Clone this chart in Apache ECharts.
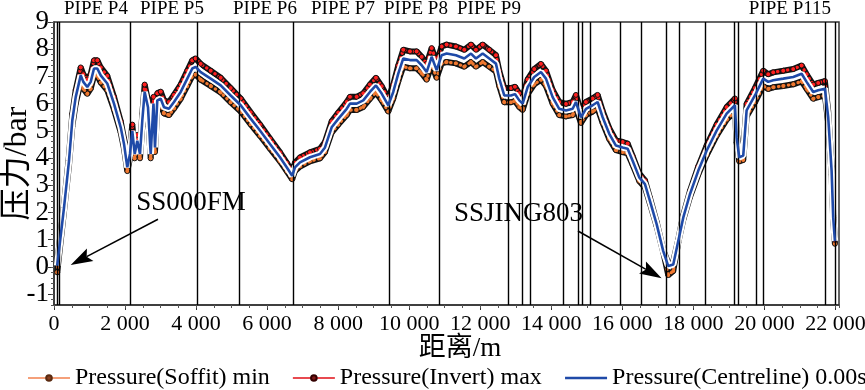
<!DOCTYPE html>
<html><head><meta charset="utf-8">
<script src="https://cdn.jsdelivr.net/npm/echarts@6/dist/echarts.min.js"></script>
<style>html,body{margin:0;padding:0;background:#fff}#c{width:865px;height:390px}</style>
</head><body><div id="c"></div>
<script>
// distance along the pipeline (m)
const distance = [
  90,282,422,515,611,752,825,937,1033,1126,
  1219,1315,1500,1689,1878,1971,2063,2139,2204,2272,
  2345,2421,2486,2553,2646,2722,2801,2843,2908,3004,
  3097,3237,3378,3567,3752,3893,3989,4130,4411,4693,
  4974,5256,5537,5799,6080,6362,6551,6705,6784,6925,
  7206,7488,7629,7817,8003,8240,8333,8521,8707,8895,
  9064,9225,9411,9551,9692,9833,10021,10210,10351,10491,
  10632,10773,10914,11054,11316,11550,11739,11879,12068,12254,
  12442,12535,12676,12865,12977,13098,13194,13335,13520,13709,
  13850,14038,14224,14413,14602,14694,14835,14976,15164,15305,
  15446,15632,15820,16009,16150,16290,16476,16637,16777,16966,
  17152,17293,17434,17575,17715,17903,18137,18373,18655,18937,
  19170,19218,19291,19404,19499,19733,19967,20107,20248,20530,
  20811,21048,21188,21374,21515,21703,21796,21892,21937,21985
];
// Pressure(Centreline) 0.00s (bar)
const centreline = [
  0.05,2.18,3.9,5.38,6.24,7.04,6.8,6.61,6.8,7.29,
  7.29,7.04,6.74,6.0,5.13,4.52,3.66,4.15,5.0,4.15,
  4.64,4.15,5.38,6.43,5.87,4.15,6.0,4.39,6.12,6.18,
  5.87,5.81,6.06,6.43,6.92,7.29,7.35,7.16,6.92,6.67,
  6.3,5.94,5.45,5.01,4.52,4.03,3.66,3.35,3.66,3.84,
  4.03,4.15,4.39,5.13,5.44,5.81,6.0,6.0,6.12,6.43,
  6.67,6.37,5.94,6.43,7.1,7.66,7.6,7.6,7.41,7.16,
  7.72,7.23,7.78,7.84,7.78,7.66,7.84,7.66,7.84,7.66,
  7.47,6.92,6.3,6.3,6.35,6.12,6.0,6.61,6.98,7.16,
  6.92,6.24,5.81,5.75,5.81,6.06,5.5,5.81,5.94,6.06,
  5.5,4.89,4.46,4.39,4.34,3.9,3.29,3.04,2.43,1.57,
  0.58,0.03,0.09,0.95,1.81,2.67,3.53,4.27,5.01,5.63,
  5.94,4.76,4.03,4.09,5.75,6.3,6.92,6.8,6.86,6.92,
  6.98,7.1,6.8,6.43,6.49,6.55,5.5,3.53,1.81,0.95
];
// Pressure(Invert) max (bar)
const invertMax = [
  0.15,2.3,4.08,5.62,6.5,7.33,7.08,6.89,7.08,7.59,
  7.59,7.33,7.02,6.25,5.35,4.72,3.83,4.34,5.23,4.34,
  4.85,4.34,5.62,6.7,6.12,4.34,6.25,4.59,6.38,6.44,
  6.12,6.06,6.32,6.7,7.21,7.59,7.66,7.46,7.21,6.95,
  6.57,6.19,5.68,5.23,4.72,4.21,3.83,3.51,3.83,4.02,
  4.21,4.34,4.59,5.35,5.67,6.06,6.25,6.25,6.38,6.7,
  6.95,6.64,6.19,6.7,7.4,7.98,7.92,7.92,7.72,7.46,
  8.04,7.53,8.1,8.17,8.1,7.98,8.17,7.98,8.17,7.98,
  7.78,7.21,6.57,6.57,6.62,6.38,6.25,6.89,7.27,7.46,
  7.21,6.5,6.06,5.99,6.06,6.32,5.73,6.06,6.19,6.32,
  5.73,5.1,4.65,4.59,4.53,4.07,3.44,3.18,2.54,1.65,
  0.62,0.15,0.2,1.0,1.9,2.79,3.69,4.46,5.23,5.87,
  6.19,4.97,4.21,4.27,5.99,6.57,7.21,7.08,7.15,7.21,
  7.27,7.4,7.08,6.7,6.76,6.83,5.73,3.69,1.9,1.0
];
// Pressure(Soffit) min (bar)
const soffitMin = [
  -0.2,2.05,3.74,5.17,6.0,6.78,6.55,6.36,6.55,7.02,
  7.02,6.78,6.49,5.78,4.94,4.35,3.52,3.99,4.81,3.99,
  4.46,3.99,5.17,6.18,5.64,3.99,5.77,4.22,5.88,5.94,
  5.64,5.58,5.82,6.18,6.65,7.01,7.07,6.88,6.65,6.41,
  6.05,5.71,5.24,4.82,4.35,3.88,3.52,3.22,3.52,3.69,
  3.88,3.99,4.22,4.94,5.23,5.58,5.77,5.77,5.88,6.18,
  6.41,6.12,5.71,6.18,6.82,7.36,7.3,7.3,7.12,6.88,
  7.42,6.95,7.48,7.53,7.48,7.36,7.53,7.36,7.53,7.36,
  7.18,6.65,6.05,6.05,6.1,5.88,5.77,6.35,6.71,6.88,
  6.65,6.0,5.58,5.53,5.58,5.82,5.29,5.58,5.71,5.82,
  5.29,4.7,4.29,4.22,4.17,3.75,3.16,2.92,2.33,1.5,
  0.54,-0.3,-0.15,0.9,1.73,2.56,3.39,4.1,4.82,5.41,
  5.71,4.57,3.88,3.93,5.53,6.05,6.65,6.54,6.6,6.65,
  6.71,6.82,6.54,6.18,6.24,6.3,5.29,3.39,1.73,0.85
];
// pipe boundary positions (m)
const pipeLines = [85,160,2139,4034,5208,6736,9439,10846,12789,13174,13408,14348,14770,14883,15088,15953,16538,17248,17594,18334,19151,19275,19761,19978,21724,21985];
const pipeNames = ['PIPE P4','PIPE P5','PIPE P6','PIPE P7','PIPE P8','PIPE P9','PIPE P115'];
const pipeNamePos = [1182,3322,5940,8135,10190,12245,20718];
const xTicks = [0,2000,4000,6000,8000,10000,12000,14000,16000,18000,20000,22000];
const yTicks = [-1,0,1,2,3,4,5,6,7,8,9];
const notes = ['SS000FM','SSJING803'];
const notePos = [[3857,2.35],[13076,1.94]];
const arrowFrom = [[2928,1.75],[14751,1.32]];
const arrowTo = [[470,0.07],[17107,-0.42]];

const SERIF = "'Liberation Serif','Times New Roman',serif";
const CJK = "'Liberation Serif','Noto Sans CJK SC',serif";
const zip = a => distance.map((d,i)=>[d,a[i]]);
const fmtX = v => v===0 ? '0' : (v/1000)+' 000';

const chart = echarts.init(document.getElementById('c'), null, {renderer:'canvas'});
const option = {
  animation:false,
  backgroundColor:'#fff',
  grid:{left:54, right:26, top:22, bottom:85, outerBoundsMode:'none', containLabel:false,
        show:true, borderColor:'#333', borderWidth:1.5, backgroundColor:'transparent'},
  legend:{
    left:27, top:366, width:860, padding:0, itemWidth:42, itemHeight:7, itemGap:22,
    textStyle:{fontSize:24, fontFamily:SERIF, color:'#000'},
    data:[
      {name:'Pressure(Soffit) min', lineStyle:{color:'#f5a07a', width:2}, itemStyle:{color:'#8a4020', borderColor:'#5a2a10'}},
      {name:'Pressure(Invert) max', lineStyle:{color:'#e84a50', width:2}, itemStyle:{color:'#801818', borderColor:'#300'}},
      {name:'Pressure(Centreline) 0.00s', lineStyle:{color:'#1f4aa8', width:2.5}, itemStyle:{opacity:0}}
    ]
  },
  xAxis:[
    {type:'value', min:0, max:22100, interval:2000, position:'bottom',
     name:'距离/m', nameLocation:'middle', nameGap:30, nameMoveOverlap:false,
     nameTextStyle:{fontSize:27, fontFamily:CJK, color:'#000', padding:[0,0,0,27]},
     axisLine:{show:true, onZero:false, lineStyle:{color:'#333', width:1.5}},
     axisTick:{show:true, customValues:xTicks, length:5, lineStyle:{color:'#333'}},
     axisLabel:{customValues:xTicks, formatter:fmtX, fontSize:22, fontFamily:SERIF, color:'#000', margin:8},
     splitLine:{show:false}},
    {type:'value', min:0, max:22100, interval:500, position:'bottom',
     axisLine:{show:false, onZero:false}, axisTick:{show:true, length:3, lineStyle:{color:'#555'}},
     axisLabel:{show:false}, splitLine:{show:false}}
  ],
  yAxis:[
    {type:'value', min:-1.4, max:9, position:'left',
     name:'压力/bar', nameLocation:'middle', nameGap:20, nameMoveOverlap:false,
     nameTextStyle:{fontSize:32, fontFamily:CJK, color:'#000'},
     axisLine:{show:true, onZero:false, lineStyle:{color:'#333', width:1.5}},
     axisTick:{show:true, customValues:yTicks, length:6, lineStyle:{color:'#333'}},
     axisLabel:{customValues:yTicks, fontSize:27, fontFamily:SERIF, color:'#000', margin:5},
     splitLine:{show:false}},
    {type:'value', min:-1.4, max:9, interval:0.2, position:'left',
     axisLine:{show:false, onZero:false}, axisTick:{show:true, length:3, lineStyle:{color:'#555'}},
     axisLabel:{show:false}, splitLine:{show:false}}
  ],
  series:[
    {name:'pipes', type:'line', data:[], silent:true, z:1,
     markLine:{silent:true, symbol:['none','none'], animation:false,
       lineStyle:{color:'#000', width:1.4, type:'solid'}, label:{show:false},
       data: pipeLines.map(x=>({xAxis:x}))}},
    {name:'Pressure(Soffit) min', type:'line', data:zip(soffitMin), z:2,
     symbol:'circle', symbolSize:5, showAllSymbol:true,
     lineStyle:{color:'#111', width:6},
     itemStyle:{color:'#f07830', borderColor:'#111', borderWidth:1}},
    {name:'Pressure(Invert) max', type:'line', data:zip(invertMax), z:3,
     symbol:'circle', symbolSize:5, showAllSymbol:true,
     lineStyle:{color:'#111', width:6},
     itemStyle:{color:'#ff2020', borderColor:'#111', borderWidth:1}},
    {name:'minDots', type:'line', data:zip(soffitMin), z:3, silent:true, symbol:'none',
     lineStyle:{color:'#f07830', width:3.2, type:[0.5,4.5], cap:'round'}},
    {name:'maxDots', type:'line', data:zip(invertMax), z:3, silent:true, symbol:'none',
     lineStyle:{color:'#ff2020', width:3.2, type:[0.5,4.5], dashOffset:2, cap:'round'}},
    {name:'halo', type:'line', data:zip(centreline), z:4, silent:true,
     symbol:'none', lineStyle:{color:'#fff', width:6.5}},
    {name:'Pressure(Centreline) 0.00s', type:'line', data:zip(centreline), z:5,
     symbol:'none', lineStyle:{color:'#1f4aa8', width:2.6}}
  ]
};
chart.setOption(option);

function addOverlay(){
  const g = [];
  const px = c => chart.convertToPixel({xAxisIndex:0, yAxisIndex:0}, c);
  pipeNames.forEach((n,i)=>{
    const p = px([pipeNamePos[i], 9]);
    g.push({type:'text', x:p[0], y:9, silent:true, style:{text:n, fontSize:19, fontFamily:SERIF, fill:'#000', align:'center', verticalAlign:'middle'}});
  });
  notes.forEach((n,i)=>{
    const p = px(notePos[i]);
    g.push({type:'text', x:p[0], y:p[1], silent:true, z:10, style:{text:n, fontSize:27, fontFamily:SERIF, fill:'#000', align:'center', verticalAlign:'middle'}});
  });
  arrowFrom.forEach((f,i)=>{
    const a = px(f), b = px(arrowTo[i]);
    const dx = b[0]-a[0], dy = b[1]-a[1], L = Math.hypot(dx,dy);
    const ux = dx/L, uy = dy/L, nx = -uy, ny = ux;
    const hl = 22, hw = 7, nt = 4;
    const base = [b[0]-ux*hl, b[1]-uy*hl];
    g.push({type:'line', silent:true, z:10, shape:{x1:a[0], y1:a[1], x2:base[0]+ux*nt, y2:base[1]+uy*nt},
            style:{stroke:'#000', lineWidth:1.5}});
    g.push({type:'polygon', silent:true, z:10, shape:{points:[
      b, [base[0]+nx*hw, base[1]+ny*hw], [base[0]+ux*nt, base[1]+uy*nt], [base[0]-nx*hw, base[1]-ny*hw]
    ]}, style:{fill:'#000'}});
  });
  chart.setOption({graphic:g});
}
addOverlay();
</script>
</body></html>
